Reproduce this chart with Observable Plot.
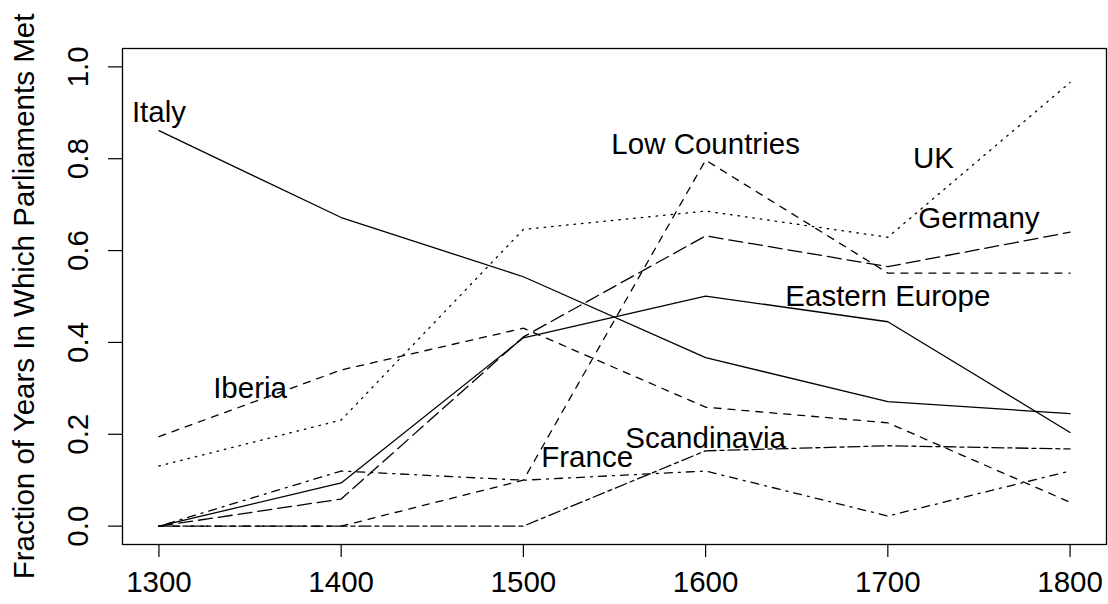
<!DOCTYPE html>
<html>
<head>
<meta charset="utf-8">
<script src="https://cdn.jsdelivr.net/npm/d3@7"></script>
<script src="https://cdn.jsdelivr.net/npm/@observablehq/plot@0.6"></script>
<style>
  html, body { margin: 0; padding: 0; background: #fff; }
  #chart svg { display: block; }
</style>
</head>
<body>
<div id="chart"></div>
<script>
const years = [1300, 1400, 1500, 1600, 1700, 1800];
const italy         = [0.861, 0.672, 0.543, 0.367, 0.271, 0.245];
const easternEurope = [0.000, 0.094, 0.410, 0.501, 0.445, 0.204];
const germany       = [0.000, 0.059, 0.412, 0.632, 0.565, 0.640];
const lowCountries  = [0.000, 0.000, 0.100, 0.797, 0.551, 0.551];
const uk            = [0.131, 0.231, 0.646, 0.686, 0.629, 0.966];
const iberia        = [0.195, 0.340, 0.431, 0.259, 0.225, 0.052];
const france        = [0.000, 0.120, 0.100, 0.120, 0.022, 0.120];
const scandinavia   = [0.000, 0.000, 0.000, 0.164, 0.175, 0.168];

const seriesNames = ["Italy", "Eastern Europe", "Germany", "Low Countries", "UK", "Iberia", "France", "Scandinavia"];
const seriesValues = [italy, easternEurope, germany, lowCountries, uk, iberia, france, scandinavia];
const seriesDash = ["none", "none", "14,6", "7,7", "1.5,6", "7,7", "2,6,8,6", "4,4,12,4"];

const labelNames = ["Italy", "Iberia", "Low Countries", "UK", "Germany", "Eastern Europe", "France", "Scandinavia"];
const labelX = [1300, 1350, 1600, 1725, 1750, 1700, 1535, 1600];
const labelY = [0.90, 0.30, 0.83, 0.80, 0.67, 0.50, 0.15, 0.19];

const xTicks = [1300, 1400, 1500, 1600, 1700, 1800];
const yTicks = [0, 0.2, 0.4, 0.6, 0.8, 1.0];
const yTitle = "Fraction of Years In Which Parliaments Met";

const rows = [];
seriesNames.forEach((name, i) => {
  years.forEach((yr, j) => rows.push({series: name, year: yr, value: seriesValues[i][j]}));
});
const labels = labelNames.map((t, i) => ({text: t, x: labelX[i], y: labelY[i]}));

const font = "'Liberation Sans', Arial, Helvetica, sans-serif";
const fs = 29.5;

const lineMarks = seriesNames.map((name, i) =>
  Plot.line(rows.filter(d => d.series === name), {
    x: "year", y: "value", stroke: "black", strokeWidth: 1.3,
    strokeDasharray: seriesDash[i] === "none" ? undefined : seriesDash[i]
  })
);

const chart = Plot.plot({
  width: 1108,
  height: 604,
  marginLeft: 122,
  marginRight: 2,
  marginTop: 48,
  marginBottom: 60,
  style: {fontFamily: font, background: "white", color: "black"},
  x: {domain: [1280, 1820]},
  y: {domain: [-0.04, 1.04]},
  marks: [
    Plot.frame({stroke: "black", strokeWidth: 1.3}),
    Plot.axisX(xTicks, {tickSize: 13, tickFormat: () => "", label: null, strokeWidth: 1.2}),
    Plot.axisY(yTicks, {tickSize: 14, tickFormat: () => "", label: null, strokeWidth: 1.2}),
    Plot.text(xTicks, {x: d => d, text: d => String(d), frameAnchor: "bottom", dy: 38, fontSize: fs, fill: "black", textAnchor: "middle", lineAnchor: "middle"}),
    Plot.text(yTicks, {y: d => d, text: d => d.toFixed(1), frameAnchor: "left", dx: -44, rotate: -90, fontSize: fs, fill: "black", textAnchor: "middle", lineAnchor: "middle"}),
    Plot.text([yTitle], {y: 0.5, text: d => d, frameAnchor: "left", dx: -98, rotate: -90, fontSize: fs, fill: "black", textAnchor: "middle", lineAnchor: "middle"}),
    ...lineMarks,
    Plot.text(labels, {x: "x", y: "y", text: "text", fontSize: fs, fill: "black", textAnchor: "middle", lineAnchor: "middle"})
  ]
});
document.getElementById("chart").appendChild(chart);
</script>
</body>
</html>
